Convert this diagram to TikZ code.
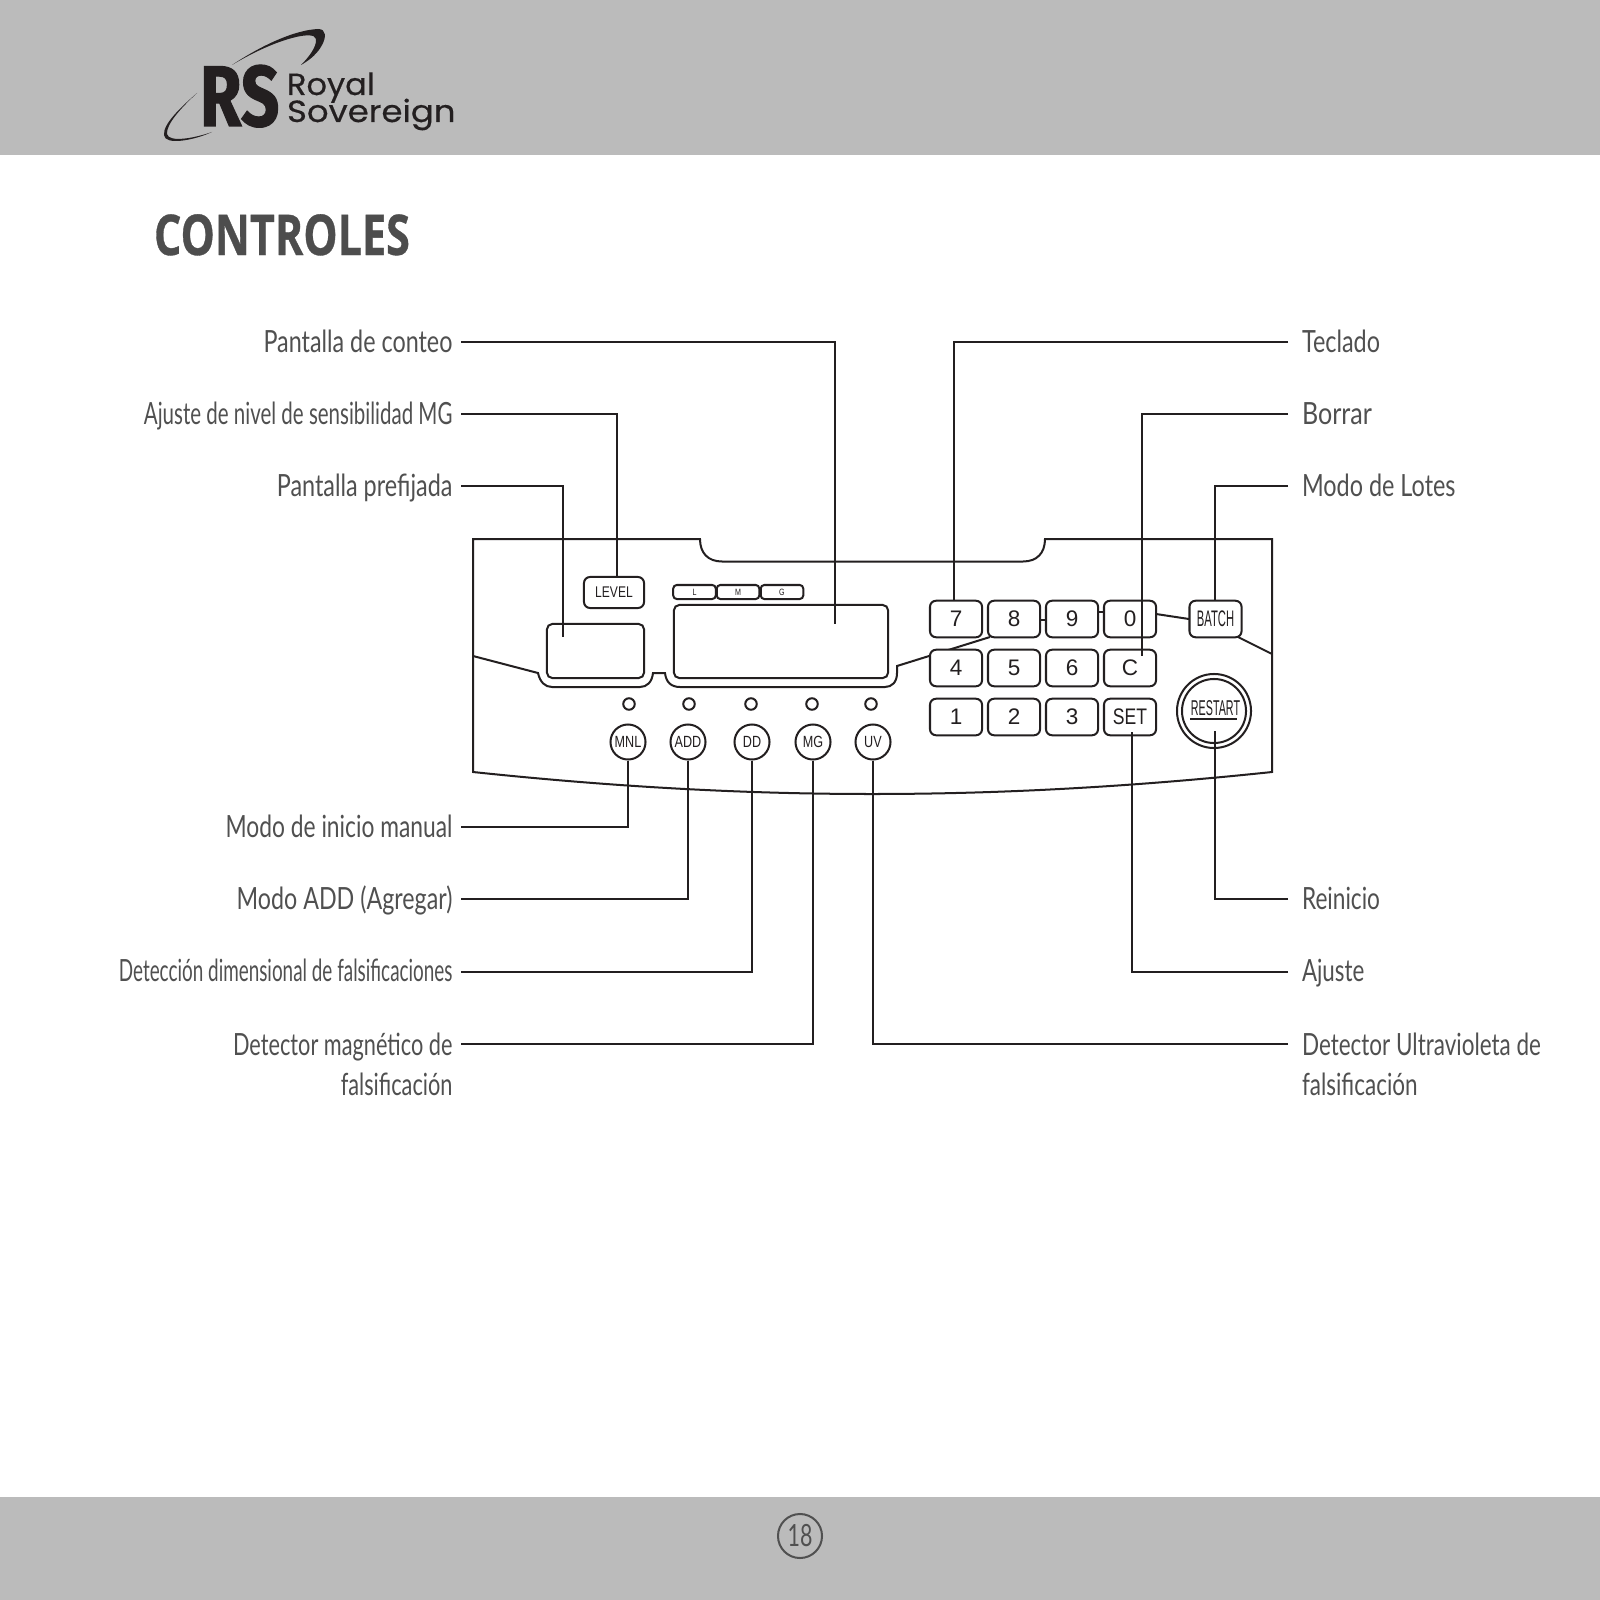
\documentclass[tikz,border=0pt]{standalone}
\usepackage{fontspec}
\usepackage{xcolor}
\usetikzlibrary{positioning,shapes.geometric}
\newfontfamily\labelfont{Lato}
\newfontfamily\titlefont[FakeStretch=0.766,FakeBold=0.6]{Open Sans}
\newfontfamily\royalfont[FakeStretch=1.05,FakeBold=0.5]{Poppins}
\newfontfamily\sovfont[FakeStretch=1.11,FakeBold=0.5]{Poppins}
\newfontfamily\rsfont[FakeStretch=0.78,FakeBold=1.2]{Fira Sans}
\newfontfamily\keyfont{Liberation Sans}
\newfontfamily\capfont[FakeStretch=0.78]{Liberation Sans}
\newfontfamily\tallfont[FakeStretch=0.50]{Liberation Sans}
\definecolor{bandgrey}{HTML}{BBBBBB}
\definecolor{inkline}{HTML}{231F20}
\definecolor{labelgrey}{HTML}{505050}
\definecolor{titlegrey}{HTML}{4D4D4D}

\begin{document}
\begin{tikzpicture}[x=0.01cm, y=-0.01cm,
    line width=0.57pt, draw=inkline, inkline,
    band/.style={fill=bandgrey, draw=none},
    squeeze/.style={font=\labelfont\addfontfeature{FakeStretch=#1}\fontsize{8.7}{11.4}\selectfont},
    lblleft/.style={anchor=east, inner xsep=0.075cm, inner ysep=0pt, labelgrey, text height=7.9pt, text depth=2pt, squeeze=#1},
    lblright/.style={anchor=west, inner xsep=0.13cm, inner ysep=0pt, labelgrey, text height=7.9pt, text depth=2pt, squeeze=#1},
    keybox/.style={draw, fill=white, rounded corners=1.7pt, minimum width=0.52cm, minimum height=0.365cm, inner sep=0pt, font=\keyfont\fontsize{6.4}{7}\selectfont},
    smallbox/.style={draw, fill=white, rounded corners=1pt, minimum width=0.425cm, minimum height=0.14cm, inner sep=0pt, font=\capfont\fontsize{2.6}{3}\selectfont},
    screen/.style={draw, fill=white, rounded corners=1.5pt, inner sep=0pt},
    roundbtn/.style={circle, draw, fill=white, minimum size=0.35cm, inner sep=0pt, font=\capfont\fontsize{4.6}{5}\selectfont},
    led/.style={circle, draw, fill=white, minimum size=0.115cm, inner sep=0pt}
]
\useasboundingbox (0,0) rectangle (1600,1600);

% bandas
\path[band] (0,0) rectangle (1600,155);
\path[band] (0,1497) rectangle (1600,1600);
\fill[white] (0,155) rectangle (1600,1497);

% logo
\fill (232,65) .. controls (262,45) and (295,30) .. (318,29) .. controls (327,29) and (326,38) .. (322,45) .. controls (318,53) and (310,60) .. (301,65)
    .. controls (308,58) and (317,47) .. (316,39) .. controls (315,34) and (305,35) .. (296,37) .. controls (275,42) and (252,53) .. (232,65) -- cycle;
\fill (197,93) .. controls (180,108) and (163,124) .. (164,135) .. controls (165,146) and (195,140) .. (212,132)
    .. controls (195,138) and (169,143) .. (167,134) .. controls (166,124) and (182,107) .. (197,93) -- cycle;
\node[font=\rsfont\bfseries\fontsize{24.5}{24.5}\selectfont, anchor=base west, inner sep=0pt] (logors) at (199,126) {RS};
\node[font=\royalfont\fontsize{8.7}{8.7}\selectfont, anchor=base west, inner sep=0pt] (logoroyal) at (286,95) {Royal};
\node[font=\sovfont\fontsize{8.7}{8.7}\selectfont, anchor=base west, inner sep=0pt] (logosov) at (286,122) {Sovereign};

% titulo
\node[titlegrey, font=\titlefont\bfseries\fontsize{16}{16}\selectfont, anchor=base west, inner sep=0pt] (titulo) at (153,255) {CONTROLES};

% carcasa
\draw (473,539) -- (700,539) .. controls (700,553) and (708,561.5) .. (722,561.5) -- (1023,561.5) .. controls (1037,561.5) and (1045,553) .. (1045,539) -- (1272,539) -- (1272,772)
    .. controls (1130,787) and (1000,794) .. (872,794) .. controls (745,794) and (615,787) .. (473,772) -- cycle;

% pliegue
\draw (473,656) -- (538,673) .. controls (540,682) and (545,687) .. (552,687) -- (640,687) .. controls (647,687) and (652,682) .. (653,673) -- (665,673)
    .. controls (666,682) and (671,687) .. (680,687) -- (885,687) .. controls (892,687) and (897,682) .. (897,673) -- (897,666) -- (990,637);
\draw (1156,614) -- (1189,619);
\draw (1238,637) -- (1272,654);
\draw (1040,620) -- (1045,620);
\draw (1098,612) -- (1103,612);

% teclado
\node[keybox] (key7) at (956,619) {7};
\node[keybox] (key8) at (1014,619) {8};
\node[keybox] (key9) at (1072,619) {9};
\node[keybox] (key0) at (1130,619) {0};
\node[keybox] (key4) at (956,668) {4};
\node[keybox] (key5) at (1014,668) {5};
\node[keybox] (key6) at (1072,668) {6};
\node[keybox] (keyc) at (1130,668) {C};
\node[keybox] (key1) at (956,717) {1};
\node[keybox] (key2) at (1014,717) {2};
\node[keybox] (key3) at (1072,717) {3};
\node[keybox, font=\capfont\fontsize{6.4}{7}\selectfont] (keyset) at (1130,717) {SET};
\node[keybox, font=\tallfont\fontsize{6.4}{7}\selectfont] (keybatch) at (1215.5,619) {BATCH};

% reinicio
\node[circle, draw, fill=white, minimum size=0.74cm, inner sep=0pt] (restartout) at (1214,711) {};
\node[circle, draw, fill=white, minimum size=0.64cm, inner sep=0pt] (restartin) at (1214,711) {};
\node[font=\tallfont\fontsize{6.1}{7}\selectfont, inner sep=0pt] (restarttxt) at (1215.5,708) {RESTART};
\draw[line width=0.8pt] (1190,719) -- (1237,719);

% pantallas
\node[keybox, minimum width=0.6cm, minimum height=0.31cm, font=\capfont\fontsize{4.4}{5}\selectfont] (keylevel) at (614,592.5) {LEVEL};
\node[smallbox] (boxl) at (694.5,592) {L};
\node[smallbox] (boxm) at (738,592) {M};
\node[smallbox] (boxg) at (782,592) {G};
\node[screen, minimum width=0.97cm, minimum height=0.54cm] (prefijada) at (595.5,651) {};
\node[screen, minimum width=2.14cm, minimum height=0.73cm] (conteo) at (781,641.5) {};

% botones
\node[led] (ledmnl) at (629,704) {};
\node[led] (ledadd) at (689,704) {};
\node[led] (leddd) at (751,704) {};
\node[led] (ledmg) at (812,704) {};
\node[led] (leduv) at (871,704) {};
\node[roundbtn] (btnmnl) at (628,742) {MNL};
\node[roundbtn] (btnadd) at (688,742) {ADD};
\node[roundbtn] (btndd) at (752,742) {DD};
\node[roundbtn] (btnmg) at (813,742) {MG};
\node[roundbtn] (btnuv) at (873,742) {UV};

% etiquetas izquierda
\node[lblleft=0.763] (lblconteo) at (461,342) {Pantalla de conteo};
\node[lblleft=0.67] (lblnivel) at (461,414) {Ajuste de nivel de sensibilidad MG};
\node[lblleft=0.765] (lblprefijada) at (461,486) {Pantalla prefijada};
\node[lblleft=0.745] (lblmanual) at (461,827) {Modo de inicio manual};
\node[lblleft=0.76] (lbladd) at (461,899) {Modo ADD (Agregar)};
\node[lblleft=0.617] (lbldd) at (461,971.5) {Detección dimensional de falsificaciones};
\node[lblleft=0.71, anchor=north east, align=right, text height=, text depth=] (lblmg) at (461,1032) {Detector magnético de\\falsificación};

% etiquetas derecha
\node[lblright=0.765] (lblteclado) at (1288,342) {Teclado};
\node[lblright=0.82] (lblborrar) at (1288,414) {Borrar};
\node[lblright=0.765] (lbllotes) at (1288,486) {Modo de Lotes};
\node[lblright=0.74] (lblreinicio) at (1288,899) {Reinicio};
\node[lblright=0.73] (lblajuste) at (1288,971.5) {Ajuste};
\node[lblright=0.735, anchor=north west, align=left, text height=, text depth=] (lbluv) at (1288,1032) {Detector Ultravioleta de\\falsificación};

% puntos libres
\coordinate (endconteo) at (835,624);
\coordinate (endnivel) at (617,577);
\coordinate (endprefijada) at (563,637);
\coordinate (endborrar) at (1142,656);
\coordinate (endreinicio) at (1215,731);
\coordinate (endajuste) at (1132,732);
\coordinate (startmg) at (461,1044);
\coordinate (startuv) at (1288,1044);

% lineas guia
\draw (lblconteo.east) -| (endconteo);
\draw (lblnivel.east) -| (endnivel);
\draw (lblprefijada.east) -| (endprefijada);
\draw (lblmanual.east) -| (btnmnl.south);
\draw (lbladd.east) -| (btnadd.south);
\draw (lbldd.east) -| (btndd.south);
\draw (startmg) -| (btnmg.south);
\draw (lblteclado.west) -| ([xshift=-0.02cm]key7.north);
\draw (lblborrar.west) -| (endborrar);
\draw (lbllotes.west) -| ([xshift=-0.01cm]keybatch.north);
\draw (lblreinicio.west) -| (endreinicio);
\draw (lblajuste.west) -| (endajuste);
\draw (startuv) -| (btnuv.south);

% pagina
\node[circle, draw, minimum size=0.44cm, inner sep=0pt, squeeze=0.7, labelgrey] (pagina) at (800,1536) {18};

\end{tikzpicture}
\end{document}
